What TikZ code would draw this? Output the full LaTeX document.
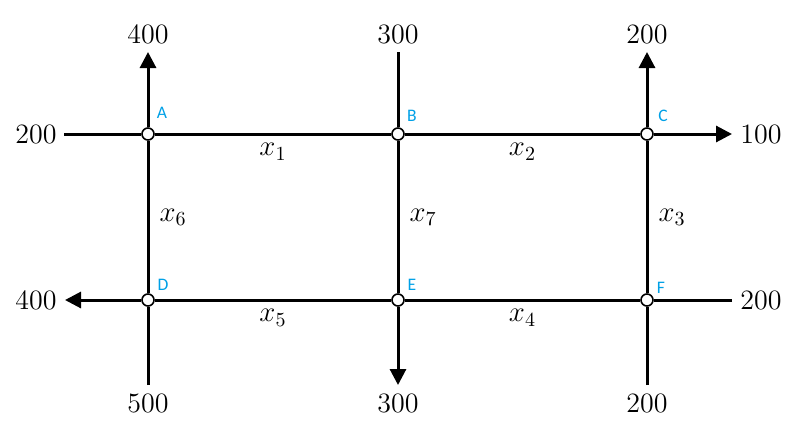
\documentclass[tikz,border=0pt]{standalone}
\usepackage{fontspec}
\newfontfamily\letterfont{Carlito}
\usetikzlibrary{arrows.meta}

\definecolor{letterblue}{RGB}{0,160,230}

\tikzset{
	junction/.style={circle, draw, fill=white, line width=0.8pt, inner sep=0pt, minimum size=6pt},
	letter/.style={text=letterblue, font=\letterfont\fontsize{8.8}{10}\selectfont},
	flow/.style={line width=1.5pt},
	outflow/.style={flow, -{Triangle[length=8pt, width=8pt]}},
	amount/.style={font=\fontsize{14}{16}\selectfont, inner sep=1pt}
}

\begin{document}
\begin{tikzpicture}[x=0.5pt, y=-0.5pt]
	\useasboundingbox (0,0) rectangle (807,440);

	% junctions
	\node [junction] (A) at (148,134) {};
	\node [junction] (B) at (398,134) {};
	\node [junction] (C) at (647,134) {};
	\node [junction] (D) at (148,300) {};
	\node [junction] (E) at (398,300) {};
	\node [junction] (F) at (647,300) {};

	\node [letter] at (162,113) {A};
	\node [letter] at (412,116) {B};
	\node [letter] at (663,116) {C};
	\node [letter] at (163,285) {D};
	\node [letter] at (412,285) {E};
	\node [letter] at (661,288) {F};

	% free ends
	\coordinate (wA) at (64,134);
	\coordinate (nA) at (148,52);
	\coordinate (nB) at (398,52);
	\coordinate (nC) at (647,52);
	\coordinate (eC) at (732,134);
	\coordinate (wD) at (65,300);
	\coordinate (sD) at (148,385);
	\coordinate (sE) at (398,385);
	\coordinate (sF) at (647,385);
	\coordinate (eF) at (732,300);

	\node [amount, left=2.5pt] at (wA) {200};
	\node [amount, above=3pt] at (nA) {400};
	\node [amount, above=3pt] at (nB) {300};
	\node [amount, above=3pt] at (nC) {200};
	\node [amount, right=3pt] at (eC) {100};
	\node [amount, left=3pt] at (wD) {400};
	\node [amount, below=3pt] at (sD) {500};
	\node [amount, below=3pt] at (sE) {300};
	\node [amount, below=3pt] at (sF) {200};
	\node [amount, right=3pt] at (eF) {200};

	% streets inside the grid
	\draw [flow]
		(A) -- node [amount, below=3pt] {$x_1$} (B);
	\draw [flow]
		(B) -- node [amount, below=3pt] {$x_2$} (C);
	\draw [flow]
		(C) -- node [amount, right=4pt] {$x_3$} (F);
	\draw [flow]
		(F) -- node [amount, below=3pt] {$x_4$} (E);
	\draw [flow]
		(E) -- node [amount, below=3pt] {$x_5$} (D);
	\draw [flow]
		(D) -- node [amount, right=4pt] {$x_6$} (A);
	\draw [flow]
		(B) -- node [amount, right=4pt] {$x_7$} (E);

	% flows in and out
	\draw [flow] (wA) -- (A);
	\draw [outflow] (A) -- (nA);
	\draw [flow] (nB) -- (B);
	\draw [outflow] (C) -- (nC);
	\draw [outflow] (C) -- (eC);
	\draw [outflow] (D) -- (wD);
	\draw [flow] (sD) -- (D);
	\draw [outflow] (E) -- (sE);
	\draw [flow] (sF) -- (F);
	\draw [flow] (eF) -- (F);
\end{tikzpicture}
\end{document}
